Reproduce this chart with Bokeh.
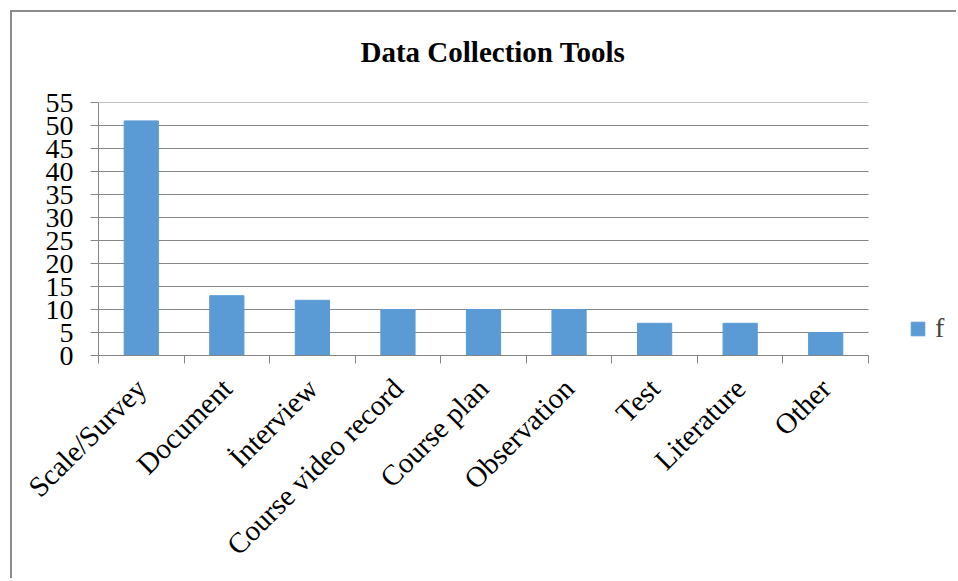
import math
from bokeh.plotting import figure
from bokeh.models import Range1d, FixedTicker, Legend, LegendItem, ColumnDataSource, Title
from bokeh.embed import file_html
from bokeh.resources import INLINE

categories = ["Scale/Survey", "Document", "İnterview", "Course video record",
              "Course plan", "Observation", "Test", "Literature", "Other"]
values = [51, 13, 12, 10, 10, 10, 7, 7, 5]
y_ticks = list(range(0, 56, 5))
series_name = "f"
title_text = "Data Collection Tools"

FONT = "Liberation Serif"
GRAY = "#868686"
BLUE = "#5B9BD5"

n = len(categories)
centers = [i + 0.5 for i in range(n)]
src = ColumnDataSource(dict(x=centers, top=values, name=categories))
grid_src = ColumnDataSource(dict(x0=[0] * len(y_ticks), x1=[n] * len(y_ticks), y=y_ticks))

# the frame extends right to hold the legend; categories fill [0, n]
x_end = n * 860 / 770

p = figure(width=946, height=568, output_backend="svg", toolbar_location=None,
           x_range=Range1d(0, x_end), y_range=Range1d(0, 55),
           min_border_left=86, min_border_right=0, min_border_top=90, min_border_bottom=225)
p.margin = (10, 0, 0, 10)
p.styles = {"border-left": "2px solid #8c8c8c", "border-top": "2px solid #8c8c8c"}

p.segment(x0="x0", x1="x1", y0="y", y1="y", source=grid_src, line_color=GRAY, line_width=1)
r = p.vbar(x="x", top="top", width=0.4, source=src, fill_color=BLUE, line_color=BLUE)

p.title.visible = False
# spacer between the frame and the title
p.add_layout(Title(text=" ", text_font_size="1px", standoff=32), "above")
p.add_layout(Title(text=title_text, align="left", offset=262, standoff=0,
                   text_font=FONT, text_font_size="29px", text_font_style="bold",
                   text_color="black"), "above")

p.outline_line_color = None
p.xgrid.grid_line_color = None
p.ygrid.grid_line_color = None

ya = p.yaxis[0]
ya.ticker = FixedTicker(ticks=y_ticks)
ya.axis_line_color = GRAY
ya.major_tick_line_color = GRAY
ya.major_tick_out = 8
ya.major_tick_in = 0
ya.minor_tick_line_color = None
ya.major_label_text_font = FONT
ya.major_label_text_font_size = "28px"
ya.major_label_text_color = "black"
ya.major_label_standoff = 17

xa = p.xaxis[0]
xa.bounds = (0, n)
xa.ticker = FixedTicker(ticks=centers, minor_ticks=list(range(n + 1)))
xa.major_label_overrides = {c: name for c, name in zip(centers, categories)}
xa.axis_line_color = GRAY
xa.major_tick_line_color = None
xa.major_tick_out = 0
xa.major_tick_in = 0
xa.minor_tick_line_color = GRAY
xa.minor_tick_out = 8
xa.minor_tick_in = 0
xa.major_label_orientation = math.pi / 4
xa.major_label_text_font = FONT
xa.major_label_text_font_size = "29px"
xa.major_label_text_color = "black"
xa.major_label_standoff = 20

legend = Legend(items=[LegendItem(label=series_name, renderers=[r])],
                location=(811, 11), padding=0, margin=0, spacing=0,
                glyph_width=17, glyph_height=17, label_height=17,
                label_text_font=FONT, label_text_font_size="28px",
                label_standoff=9, border_line_color=None, background_fill_alpha=0)
p.add_layout(legend)

open("out.html", "w").write(file_html(p, INLINE))
